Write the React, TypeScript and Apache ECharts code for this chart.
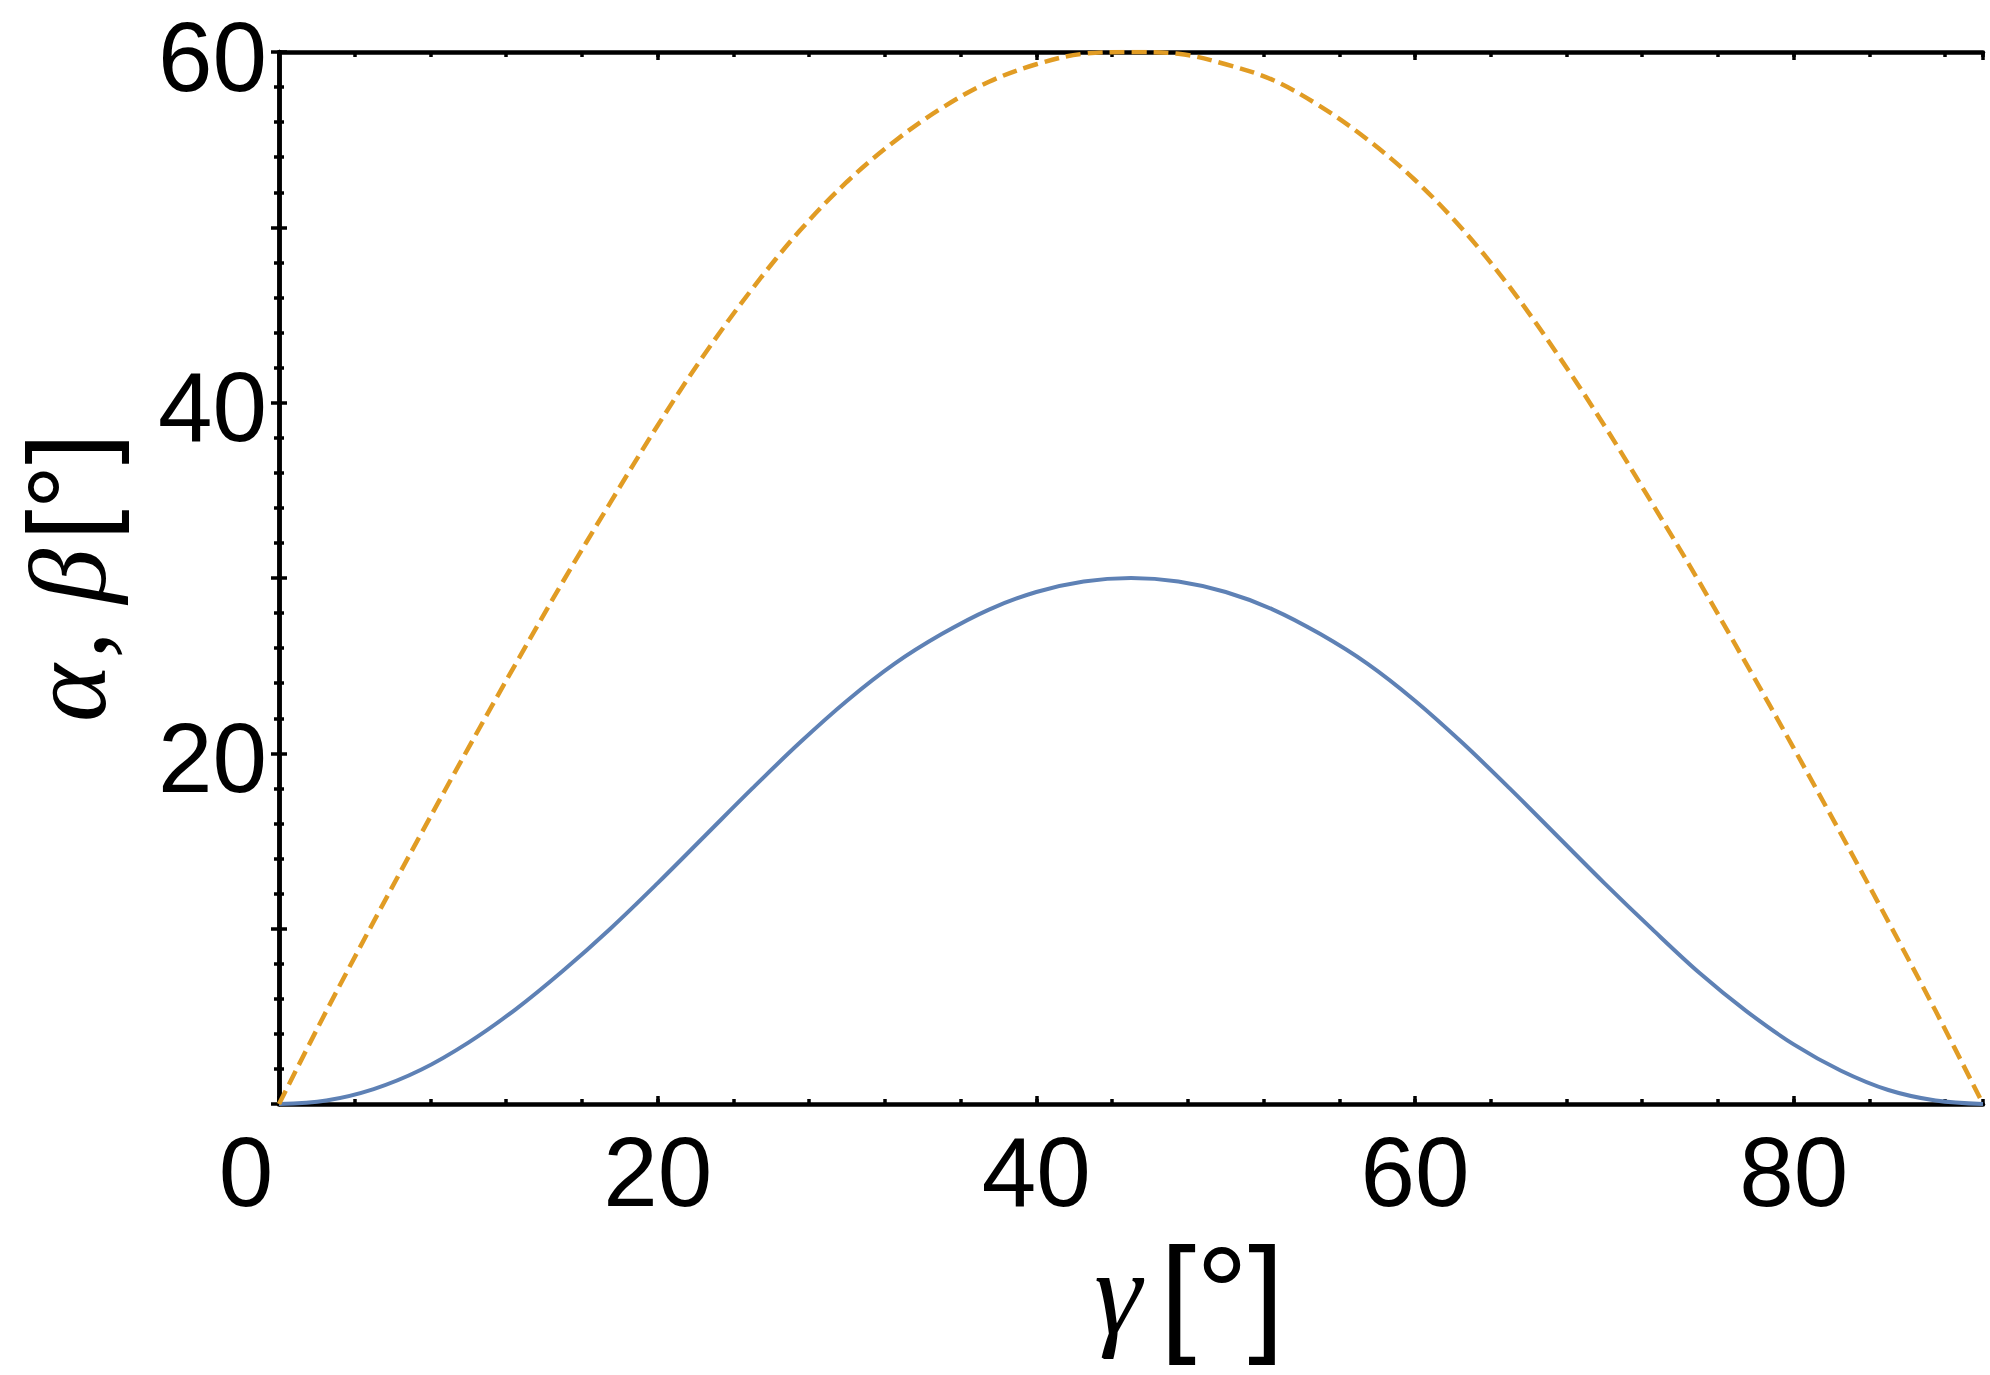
import React, { useEffect, useRef } from "react";
import * as echarts from "echarts";

// γ (degrees) sample positions
const gammaDeg = [
  0, 2.5, 5, 7.5, 10, 12.5, 15, 17.5, 20, 22.5, 25, 27.5, 30, 32.5, 35, 37.5, 40, 42.5, 45,
  47.5, 50, 52.5, 55, 57.5, 60, 62.5, 65, 67.5, 70, 72.5, 75, 77.5, 80, 82.5, 85, 87.5, 90,
];
// α (solid blue)
const alphaDeg = [
  0, 0.2, 0.85, 1.95, 3.5, 5.4, 7.6, 10.0, 12.6, 15.3, 18.0, 20.6, 23.0, 25.1, 26.8, 28.2, 29.2, 29.8, 30,
  29.8, 29.2, 28.2, 26.8, 25.1, 23.0, 20.6, 18.0, 15.3, 12.6, 10.0, 7.5, 5.3, 3.4, 1.9, 0.8, 0.2, 0,
];
// β (dashed orange)
const betaDeg = [
  0, 5.3, 10.4, 15.4, 20.3, 25.1, 29.8, 34.3, 38.7, 42.8, 46.5, 49.8, 52.6, 54.9, 56.8, 58.3, 59.3, 59.9, 60,
  59.9, 59.3, 58.4, 56.9, 55.0, 52.7, 49.9, 46.6, 42.8, 38.7, 34.3, 29.8, 25.1, 20.3, 15.4, 10.4, 5.3, 0,
];

const xTickLabels = [0, 20, 40, 60, 80];
const yTickLabels = [20, 40, 60];

const SANS = '"Liberation Sans", Arial, Helvetica, sans-serif';
const SERIF = '"Liberation Serif", "DejaVu Serif", serif';

export default function App() {
  const ref = useRef<HTMLDivElement>(null);

  useEffect(() => {
    if (!ref.current) return;
    const chart = echarts.init(ref.current, undefined, { renderer: "svg" });

    const alphaData = gammaDeg.map((g, i) => [g, alphaDeg[i]]);
    const betaData = gammaDeg.map((g, i) => [g, betaDeg[i]]);

    const frameLine = { show: true, lineStyle: { color: "#000", width: 4.5 } };
    const majorTick = { show: true, inside: true, length: 8, lineStyle: { color: "#000", width: 3.5 } };
    const minorTickX = { show: true, inside: true, length: 5, lineStyle: { color: "#000", width: 3.5 } };
    const labelFont = { color: "#000", fontSize: 98, fontFamily: SANS };

    const xBase = {
      type: "value",
      min: 0,
      max: 90,
      splitLine: { show: false },
      minorSplitLine: { show: false },
    };
    const yBase = {
      type: "value",
      min: 0,
      max: 60,
      interval: 10,
      splitLine: { show: false },
      minorSplitLine: { show: false },
      axisLine: frameLine,
      axisTick: majorTick,
      minorTick: { show: true, splitNumber: 5, length: 5, lineStyle: { color: "#000", width: 3.5 } },
    };

    const txt = (text: string, x: number, y: number, font: string, align: string) => ({
      type: "text",
      x,
      y,
      silent: true,
      style: {
        text,
        font,
        fill: "#000",
        align,
        textAlign: align,
        verticalAlign: "middle",
        textVerticalAlign: "middle",
      },
    });

    const option: any = {
      animation: false,
      backgroundColor: "#fff",
      grid: { left: 279, top: 52, width: 1704, height: 1052, containLabel: false },
      xAxis: [
        {
          ...xBase,
          position: "bottom",
          interval: 20,
          axisLine: frameLine,
          axisTick: majorTick,
          axisLabel: {
            ...labelFont,
            margin: 19,
            showMaxLabel: false,
            formatter: (v: number) =>
              xTickLabels.includes(v) ? (v === 0 ? "{z|0}" : String(v)) : "",
            rich: { z: { ...labelFont, padding: [0, 66, 0, 0] } },
          },
        },
        {
          ...xBase,
          position: "bottom",
          interval: 4,
          axisLine: { show: false },
          axisTick: minorTickX,
          axisLabel: { show: false },
        },
        {
          ...xBase,
          position: "top",
          interval: 20,
          axisLine: frameLine,
          axisTick: majorTick,
          axisLabel: { show: false },
        },
        {
          ...xBase,
          position: "top",
          interval: 4,
          axisLine: { show: false },
          axisTick: minorTickX,
          axisLabel: { show: false },
        },
      ],
      yAxis: [
        {
          ...yBase,
          position: "left",
          axisLabel: {
            ...labelFont,
            margin: 12,
            formatter: (v: number) => (yTickLabels.includes(v) ? `{a|${v}}` : ""),
            rich: { a: { ...labelFont, padding: [9, 0, 0, 0] } },
          },
        },
        { ...yBase, position: "right", axisLabel: { show: false } },
      ],
      series: [
        {
          type: "line",
          name: "α",
          xAxisIndex: 0,
          yAxisIndex: 0,
          data: alphaData,
          showSymbol: false,
          smooth: 0.35,
          lineStyle: { color: "#5E81B5", width: 4 },
        },
        {
          type: "line",
          name: "β",
          xAxisIndex: 0,
          yAxisIndex: 0,
          data: betaData,
          showSymbol: false,
          smooth: 0.35,
          lineStyle: { color: "#E19C24", width: 4.5, type: [15, 7] },
        },
      ],
      graphic: [
        {
          type: "group",
          x: 0,
          y: 0,
          children: [
            txt("γ", 1118, 1292, `italic 120px ${SERIF}`, "center"),
            txt("[°]", 1222, 1293, `130px ${SANS}`, "center"),
          ],
        },
        {
          type: "group",
          x: 105,
          y: 583,
          rotation: Math.PI / 2,
          children: [
            txt("α", -110, -37, `italic 110px ${SERIF}`, "center"),
            txt(",", -62, -37, `110px ${SERIF}`, "center"),
            txt("β", 7, -37, `italic 110px ${SERIF}`, "center"),
            txt("[°]", 96, -38, `112px ${SANS}`, "center"),
          ],
        },
      ],
    };

    chart.setOption(option);
    return () => chart.dispose();
  }, []);

  return (
    <div
      ref={ref}
      style={{ position: "fixed", left: 0, top: 0, width: 1990, height: 1375, background: "#fff" }}
    />
  );
}
